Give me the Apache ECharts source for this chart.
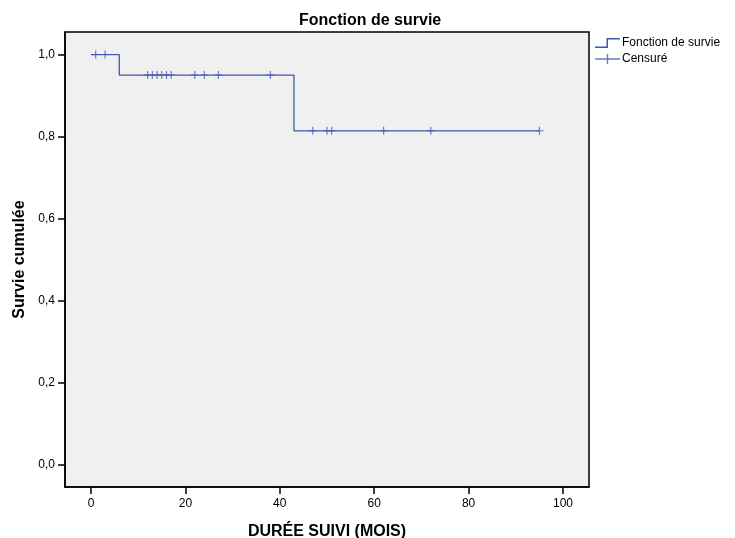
<!DOCTYPE html>
<html>
<head>
<meta charset="utf-8">
<script src="https://cdn.jsdelivr.net/npm/echarts@6/dist/echarts.min.js"></script>
<style>
  html, body { margin: 0; padding: 0; background: #fff; }
  #chart { width: 735px; height: 538px; }
</style>
</head>
<body>
<div id="chart"></div>
<script>
// Kaplan-Meier : temps des événements et survie cumulée après chaque événement
const eventTimes = [0, 6, 43];
const survival = [1.0, 0.95, 0.814];
const lastTime = 95;
// observations censurées (mois)
const censorTimes = [1, 3, 12, 13, 14, 15, 16, 17, 22, 24, 27, 38, 47, 50, 51, 62, 72, 95];
const xTicks = [0, 20, 40, 60, 80, 100];
const yTicks = [0, 0.2, 0.4, 0.6, 0.8, 1.0];

const lineColor = "#4057b5";

// survie au temps t (fonction en escalier)
const survAt = (t) => {
  let s = survival[0];
  eventTimes.forEach((et, i) => {
    if (t >= et) s = survival[i];
  });
  return s;
};

// construction de la courbe en escalier
let curve = [];
eventTimes.forEach((t, i) => {
  if (i > 0) curve.push([t, survival[i - 1]]);
  curve.push([t, survival[i]]);
});
curve.push([lastTime, survival[survival.length - 1]]);

const censorPts = censorTimes.map((t) => [t, survAt(t)]);

const crossPath = "path://M0,8.6h20v2.8h-20z M8.6,0h2.8v20h-2.8z";
const stepIcon = "path://M0,8.5H11.5V0H25V1.5H13V10H0Z";
const crossIcon = "path://M0,4.3h25v1.4h-25z M11.8,0h1.4v10h-1.4z";

const chart = echarts.init(document.getElementById("chart"));
chart.setOption({
  animation: false,
  backgroundColor: "#ffffff",
  textStyle: { fontFamily: "Liberation Sans, Arial, sans-serif" },
  title: {
    text: "Fonction de survie",
    left: 294,
    top: 8,
    textStyle: { fontSize: 16, fontWeight: "bold", color: "#000" },
  },
  legend: {
    orient: "vertical",
    left: 590,
    top: 32,
    itemWidth: 25,
    itemHeight: 10,
    itemGap: 4,
    textStyle: { fontSize: 12, color: "#000", padding: [0, 0, 0, -3] },
    data: [
      { name: "Fonction de survie", icon: stepIcon },
      { name: "Censuré", icon: crossIcon },
    ],
  },
  grid: {
    left: 65,
    right: 146,
    top: 32,
    bottom: 51,
    outerBoundsMode: "none",
    containLabel: false,
    show: true,
    backgroundColor: "#f0f0f0",
    borderColor: "#000",
    borderWidth: 1.5,
  },
  xAxis: {
    type: "value",
    min: -5.5,
    max: 105.5,
    name: "DURÉE SUIVI (MOIS)",
    nameLocation: "middle",
    nameGap: 37,
    nameTextStyle: { fontSize: 16, fontWeight: "bold", color: "#000" },
    splitLine: { show: false },
    axisLine: { show: true, onZero: false, lineStyle: { color: "#000", width: 1.5 } },
    axisTick: {
      show: true,
      length: 7,
      lineStyle: { color: "#000", width: 1.5 },
      customValues: xTicks,
    },
    axisLabel: {
      color: "#000",
      fontSize: 12,
      margin: 11,
      customValues: xTicks,
    },
  },
  yAxis: {
    type: "value",
    min: -0.055,
    max: 1.055,
    name: "Survie cumulée",
    nameLocation: "middle",
    nameGap: 37,
    nameTextStyle: { fontSize: 16, fontWeight: "bold", color: "#000" },
    splitLine: { show: false },
    axisLine: { show: true, onZero: false, lineStyle: { color: "#000", width: 1.5 } },
    axisTick: {
      show: true,
      length: 7,
      lineStyle: { color: "#000", width: 1.5 },
      customValues: yTicks,
    },
    axisLabel: {
      color: "#000",
      fontSize: 12,
      margin: 10,
      customValues: yTicks,
      formatter: (v) => v.toFixed(1).replace(".", ","),
    },
  },
  series: [
    {
      name: "Fonction de survie",
      type: "line",
      data: curve,
      symbol: "none",
      silent: true,
      lineStyle: { color: lineColor, width: 1.3 },
      itemStyle: { color: lineColor },
    },
    {
      name: "Censuré",
      type: "scatter",
      data: censorPts,
      symbol: crossPath,
      symbolSize: 8,
      silent: true,
      itemStyle: { color: lineColor },
    },
  ],
});
</script>
</body>
</html>
